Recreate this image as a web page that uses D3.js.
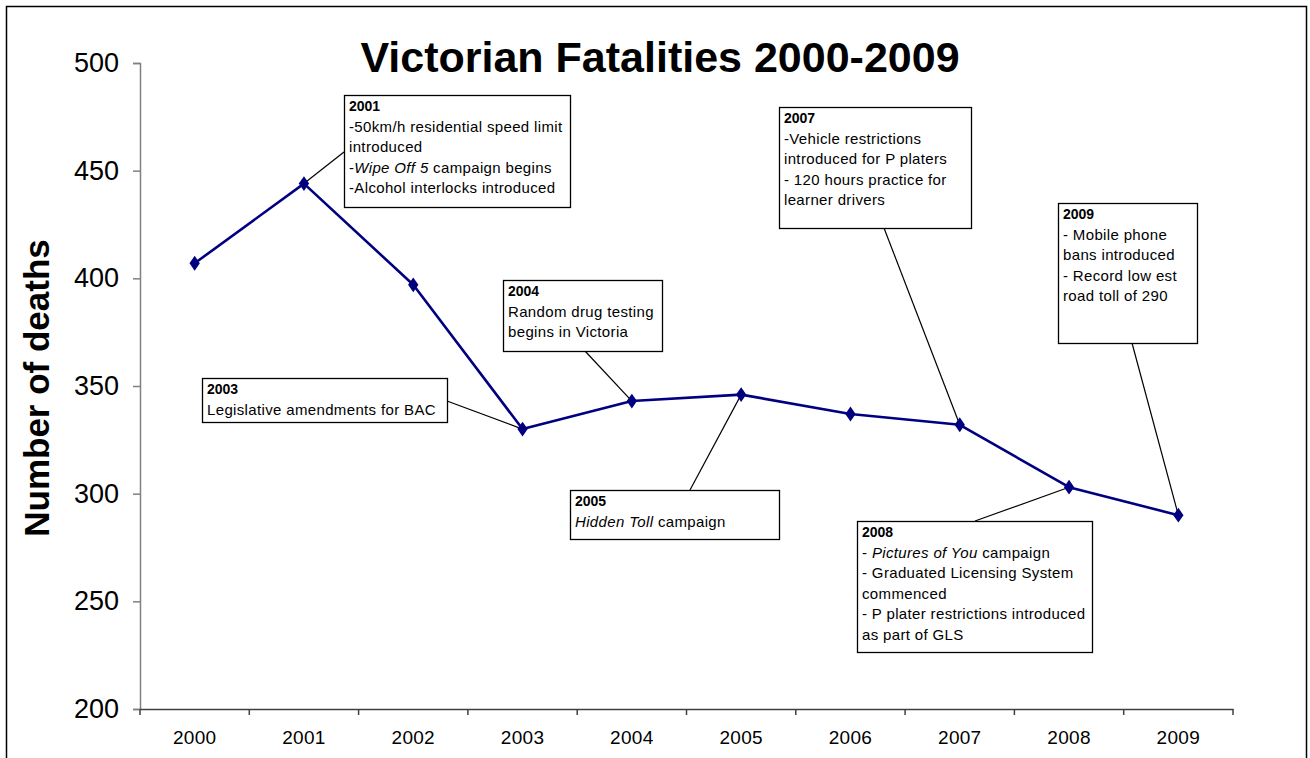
<!DOCTYPE html>
<html>
<head>
<meta charset="utf-8">
<script src="https://cdn.jsdelivr.net/npm/d3@7"></script>
<style>
  html, body { margin: 0; padding: 0; background: #fff; }
  svg { display: block; font-family: "Liberation Sans", Arial, sans-serif; }
</style>
</head>
<body>
<svg id="chart" width="1310" height="758"></svg>
<script>
// ---- data ----
const years = ["2000", "2001", "2002", "2003", "2004", "2005", "2006", "2007", "2008", "2009"];
const deaths = [407, 444, 397, 330, 343, 346, 337, 332, 303, 290];
const yTicks = [200, 250, 300, 350, 400, 450, 500];
const title = "Victorian Fatalities 2000-2009";
const yLabel = "Number of deaths";

// annotation texts (segments wrapped in *...* are italic)
const noteYears = ["2001", "2003", "2004", "2005", "2007", "2008", "2009"];
const noteLines = [
  ["-50km/h residential speed limit", "introduced", "-*Wipe Off 5* campaign begins", "-Alcohol interlocks introduced"],
  ["Legislative amendments for BAC"],
  ["Random drug testing", "begins in Victoria"],
  ["*Hidden Toll* campaign"],
  ["-Vehicle restrictions", "introduced for P platers", "- 120 hours practice for", "learner drivers"],
  ["- *Pictures of You* campaign", "- Graduated Licensing System", "commenced", "- P plater restrictions introduced", "as part of GLS"],
  ["- Mobile phone", "bans introduced", "- Record low est", "road toll of 290"]
];

// ---- layout (pixels) ----
const plot = { left: 140, right: 1233, top: 63, bottom: 709 };
// box: x, y, w, h ; leader start point (lx, ly)
const noteBoxes = [
  { x: 344, y: 95, w: 226, h: 112, lx: 344, ly: 152 },
  { x: 202, y: 378, w: 245, h: 44, lx: 447, ly: 401 },
  { x: 503, y: 280, w: 159, h: 71, lx: 585, ly: 351 },
  { x: 570, y: 490, w: 209, h: 49, lx: 690, ly: 490 },
  { x: 779, y: 107, w: 192, h: 121, lx: 884, ly: 228 },
  { x: 857, y: 521, w: 235, h: 131, lx: 975, ly: 521 },
  { x: 1058, y: 203, w: 139, h: 140, lx: 1132, ly: 343 }
];

const svg = d3.select("#chart");

// outer frame
svg.append("rect").attr("x", 6.5).attr("y", 6.5).attr("width", 1300).attr("height", 760)
  .attr("fill", "#fff").attr("stroke", "#000").attr("stroke-width", 1.5);

const x = d3.scaleBand().domain(years).range([plot.left, plot.right]).paddingInner(0).paddingOuter(0);
const y = d3.scaleLinear().domain([200, 500]).range([plot.bottom, plot.top]);

// y axis
const yAxis = d3.axisLeft(y).tickValues(yTicks).tickSize(7).tickPadding(14).tickFormat(d3.format("d"));
const gy = svg.append("g").attr("transform", `translate(${plot.left},0)`).call(yAxis);
gy.select(".domain").attr("stroke", "#808080").attr("stroke-width", 1.5);
gy.selectAll(".tick line").attr("stroke", "#808080").attr("stroke-width", 1.5);
gy.selectAll(".tick text").attr("font-size", 27).attr("fill", "#000")
  .attr("font-family", "'Liberation Sans', Arial, sans-serif");

// x axis
const xAxis = d3.axisBottom(x).tickSize(0).tickPadding(22);
const gx = svg.append("g").attr("transform", `translate(0,${plot.bottom})`).call(xAxis);
gx.select(".domain").attr("stroke", "#404040").attr("stroke-width", 1.5);
gx.selectAll(".tick text").attr("font-size", 19).attr("fill", "#000")
  .attr("font-family", "'Liberation Sans', Arial, sans-serif").attr("letter-spacing", 0.3);
// boundary tick marks between categories
const bounds = years.map(d => x(d)).concat([x(years[years.length - 1]) + x.bandwidth()]);
gx.selectAll("line.bnd").data(bounds).enter().append("line").attr("class", "bnd")
  .attr("x1", d => d).attr("x2", d => d).attr("y1", 0).attr("y2", 6)
  .attr("stroke", "#404040").attr("stroke-width", 1.5);

// title
svg.append("text").attr("x", 660).attr("y", 72).attr("text-anchor", "middle")
  .attr("font-size", 43).attr("font-weight", "bold").text(title);

// y label
svg.append("text").attr("transform", "translate(49,388) rotate(-90)").attr("text-anchor", "middle")
  .attr("font-size", 35).attr("font-weight", "bold").text(yLabel);

const cx = d => x(d) + x.bandwidth() / 2;

// leader lines (drawn under line)
const noteIdx = noteYears.map(yr => years.indexOf(yr));
svg.append("g").selectAll("line").data(noteBoxes).enter().append("line")
  .attr("x1", d => d.lx).attr("y1", d => d.ly)
  .attr("x2", (d, i) => cx(noteYears[i]))
  .attr("y2", (d, i) => y(deaths[noteIdx[i]]))
  .attr("stroke", "#000").attr("stroke-width", 1.2);

// series line
const line = d3.line().x((d, i) => cx(years[i])).y(d => y(d));
svg.append("path").datum(deaths).attr("d", line).attr("fill", "none")
  .attr("stroke", "#000080").attr("stroke-width", 2.6).attr("stroke-linejoin", "round");

// markers (diamonds)
const diamond = d3.symbol().type(d3.symbolDiamond).size(70);
svg.append("g").selectAll("path").data(deaths).enter().append("path")
  .attr("d", diamond)
  .attr("transform", (d, i) => `translate(${cx(years[i])},${y(d)}) scale(1.15,0.95)`)
  .attr("fill", "#000080");

// annotation boxes
const gn = svg.append("g").selectAll("g").data(noteBoxes).enter().append("g");
gn.append("rect").attr("x", d => d.x + 0.5).attr("y", d => d.y + 0.5)
  .attr("width", d => d.w).attr("height", d => d.h)
  .attr("fill", "#fff").attr("stroke", "#000").attr("stroke-width", 1.3);
gn.each(function (d, i) {
  const g = d3.select(this);
  const lh = 20.5;
  const t = g.append("text").attr("font-size", 15).attr("letter-spacing", 0.35).attr("fill", "#000");
  t.append("tspan").attr("x", d.x + 5).attr("y", d.y + 16).attr("font-weight", "bold")
    .attr("font-size", 14).attr("letter-spacing", 0).text(noteYears[i]);
  noteLines[i].forEach((ln, j) => {
    const parts = ln.split("*");
    parts.forEach((p, k) => {
      if (!p) return;
      const ts = t.append("tspan").text(p).attr("font-style", k % 2 ? "italic" : "normal");
      if (k === 0 || (k === 1 && !parts[0])) ts.attr("x", d.x + 5).attr("y", d.y + 16 + lh * (j + 1));
    });
  });
});
</script>
</body>
</html>
